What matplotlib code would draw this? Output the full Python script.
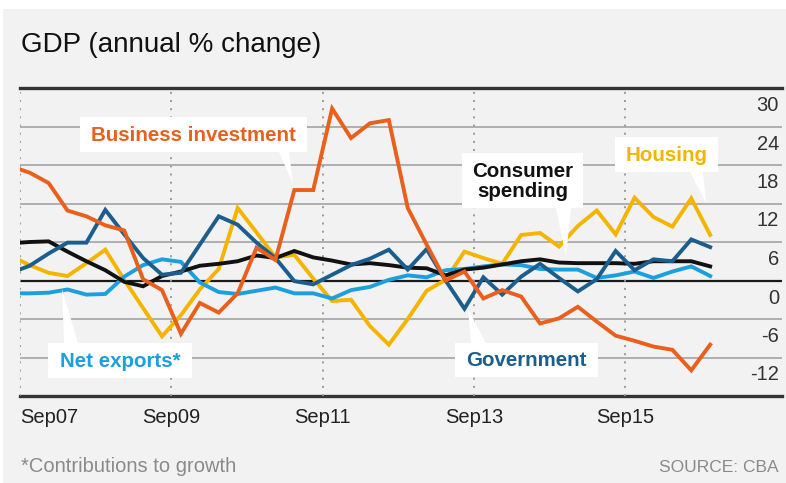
import matplotlib

matplotlib.use("Agg")
import matplotlib.pyplot as plt
import numpy as np
from matplotlib.patches import Rectangle, Polygon

plt.rcParams["font.family"] = ["Liberation Sans", "DejaVu Sans"]

# Datos: variación anual (%) trimestral
consumo = [5.8, 6.0, 6.1, 4.5, 3.0, 1.6, -0.2, -0.9, 0.7, 1.4,
           2.3, 2.6, 3.0, 3.9, 3.5, 4.6, 3.6, 3.1, 2.5, 2.7,
           2.4, 2.0, 1.9, 0.8, 1.7, 2.0, 2.5, 3.0, 3.3, 2.8,
           2.7, 2.7, 2.7, 2.6, 3.0, 3.0, 3.0, 2.2]
vivienda = [3.8, 2.4, 1.2, 0.7, 2.7, 4.8, 0.1, -4.3, -8.7, -5.4,
            -1.4, 1.8, 11.3, 7.5, 3.6, 4.0, 0.3, -3.2, -3.0, -7.1,
            -10.0, -6.0, -1.6, 0.1, 4.5, 3.5, 2.6, 7.1, 7.4, 5.3,
            8.5, 10.9, 7.2, 12.9, 9.9, 8.4, 12.8, 7.1]
exportaciones = [-2.0, -2.0, -1.9, -1.4, -2.2, -2.1, 0.6, 2.4, 3.3, 2.9,
                 -0.3, -1.8, -2.1, -1.6, -1.1, -2.0, -2.0, -2.8, -1.5, -1.0,
                 0.1, 0.8, 0.5, 1.6, 1.8, 2.2, 2.5, 2.4, 1.8, 1.7,
                 1.7, 0.4, 0.8, 1.4, 0.4, 1.4, 2.2, 0.7]
gobierno = [1.2, 2.3, 4.2, 5.9, 5.9, 11.0, 7.2, 3.5, 0.9, 1.2,
            5.6, 10.0, 8.7, 5.9, 3.5, -0.1, -0.6, 0.9, 2.4, 3.4,
            4.8, 1.7, 4.9, 0.0, -4.4, 0.5, -2.2, 0.6, 2.6, 0.4,
            -1.7, 0.2, 4.6, 1.6, 3.3, 3.0, 6.4, 5.2]
inversion = [17.8, 16.8, 15.2, 10.9, 10.0, 8.6, 7.8, 0.2, -1.5, -8.3,
             -3.5, -5.0, -2.0, 5.1, 3.2, 14.1, 14.1, 26.8, 22.2, 24.5,
             25.0, 11.3, 5.6, 0.0, 1.4, -2.8, -1.5, -2.5, -6.7, -5.9,
             -4.1, -6.4, -8.6, -9.4, -10.3, -10.8, -14.0, -10.0]

# trimestres contados desde Sep07 (el primer dato queda medio trimestre antes)
trimestres = np.arange(len(consumo)) - 0.5
ticks_anio = [0, 8, 16, 24, 32]
etiquetas_anio = ["Sep07", "Sep09", "Sep11", "Sep13", "Sep15"]
niveles_y = [30, 24, 18, 12, 6, 0, -6, -12]

COLOR_INVERSION = "#e8601c"
COLOR_VIVIENDA = "#f5b400"
COLOR_GOBIERNO = "#1b5e8e"
COLOR_EXPORT = "#1c9fde"
COLOR_CONSUMO = "#111111"
FONDO = "#f2f2f2"

W, H = 786, 483
fig = plt.figure(figsize=(W / 100, H / 100), dpi=100)
fig.patch.set_facecolor("white")

# fondo gris
bg = fig.add_axes([0, 0, 1, 1], zorder=0)
bg.set_xlim(0, W)
bg.set_ylim(H, 0)
bg.axis("off")
bg.add_patch(Rectangle((3, 9), W - 3, H - 9, color=FONDO, lw=0))

# área de datos: x 20.25..782 px, y 88..396 px
izq, der, arr, aba = 20.25, 782, 88, 396
ax = fig.add_axes([izq / W, (H - aba) / H, (der - izq) / W, (aba - arr) / H], zorder=1)
ax.patch.set_visible(False)
ax.set_xlim(0, 40.3)
ax.set_ylim(-18, 30)
for s in ax.spines.values():
    s.set_visible(False)
ax.set_xticks([])
ax.set_yticks([])

for v in [24, 18, 12, 6, -6, -12]:
    ax.axhline(v, color="#9c9c9c", lw=1.1, zorder=1)
ax.axhline(0, color="#1a1a1a", lw=1.6, zorder=1)
ax.axhline(30, color="#333333", lw=2.4, zorder=1, clip_on=False)
ax.axhline(-18, color="#333333", lw=2.4, zorder=1, clip_on=False)
for t in ticks_anio:
    ax.axvline(t, color="#9a9a9a", lw=1.4, linestyle=(0, (1, 3.2)), zorder=1)

lw = 2.8
ax.plot(trimestres, vivienda, color=COLOR_VIVIENDA, lw=lw, zorder=3, solid_joinstyle="miter")
ax.plot(trimestres, exportaciones, color=COLOR_EXPORT, lw=lw, zorder=3, solid_joinstyle="miter")
ax.plot(trimestres, consumo, color=COLOR_CONSUMO, lw=lw, zorder=4, solid_joinstyle="miter")
ax.plot(trimestres, gobierno, color=COLOR_GOBIERNO, lw=lw, zorder=5, solid_joinstyle="miter")
ax.plot(trimestres, inversion, color=COLOR_INVERSION, lw=lw, zorder=6, solid_joinstyle="miter")

# etiquetas del eje Y, debajo de cada línea de grilla
for v in niveles_y:
    ax.annotate(str(v), xy=(1, v), xycoords=("axes fraction", "data"),
                xytext=(-3, -17.5), textcoords="offset pixels",
                ha="right", va="center", fontsize=14.5, color="#333333")

# etiquetas del eje X
for t, lab in zip(ticks_anio, etiquetas_anio):
    ax.annotate(lab, xy=(t, 0), xycoords=("data", "axes fraction"),
                xytext=(0, -27), textcoords="offset pixels",
                ha="left" if t == 0 else "center", va="baseline",
                fontsize=14.5, color="#222222")

# capa superior: título, cajas y pie
ov = fig.add_axes([0, 0, 1, 1], zorder=5)
ov.patch.set_visible(False)
ov.set_xlim(0, W)
ov.set_ylim(H, 0)
ov.axis("off")

ov.text(21, 51.5, "GDP (annual % change)", fontsize=20, color="#111111",
        ha="left", va="baseline")
ov.text(21, 472, "*Contributions to growth", fontsize=14.5, color="#8a8a8a",
        ha="left", va="baseline")
ov.text(779, 472, "SOURCE: CBA", fontsize=12.5, color="#8a8a8a",
        ha="right", va="baseline")

cajas = [
    # (x0, y0, x1, y1, texto, color, cola)
    (80, 117, 307, 152, "Business investment", COLOR_INVERSION,
     [(279, 152), (289, 152), (293, 184)]),
    (48, 343, 192, 378, "Net exports*", COLOR_EXPORT,
     [(62, 289), (64, 343), (78, 343)]),
    (462, 153, 583, 208, "Consumer\nspending", COLOR_CONSUMO,
     [(556, 208), (571, 208), (566, 257)]),
    (615, 137, 718, 172, "Housing", COLOR_VIVIENDA,
     [(690, 172), (703, 172), (706, 203)]),
    (455, 343, 598, 377, "Government", COLOR_GOBIERNO,
     [(468, 309), (471, 343), (486, 343)]),
]
for x0, y0, x1, y1, texto, color, cola in cajas:
    ov.add_patch(Rectangle((x0, y0), x1 - x0, y1 - y0, color="white", lw=0))
    ov.add_patch(Polygon(cola, closed=True, color="white", lw=0))
    ov.text((x0 + x1) / 2, (y0 + y1) / 2 + 1, texto, color=color, fontsize=14.8,
            fontweight="bold", ha="center", va="center", linespacing=1.1)

fig.savefig("out.png", dpi=100, facecolor=fig.get_facecolor())
